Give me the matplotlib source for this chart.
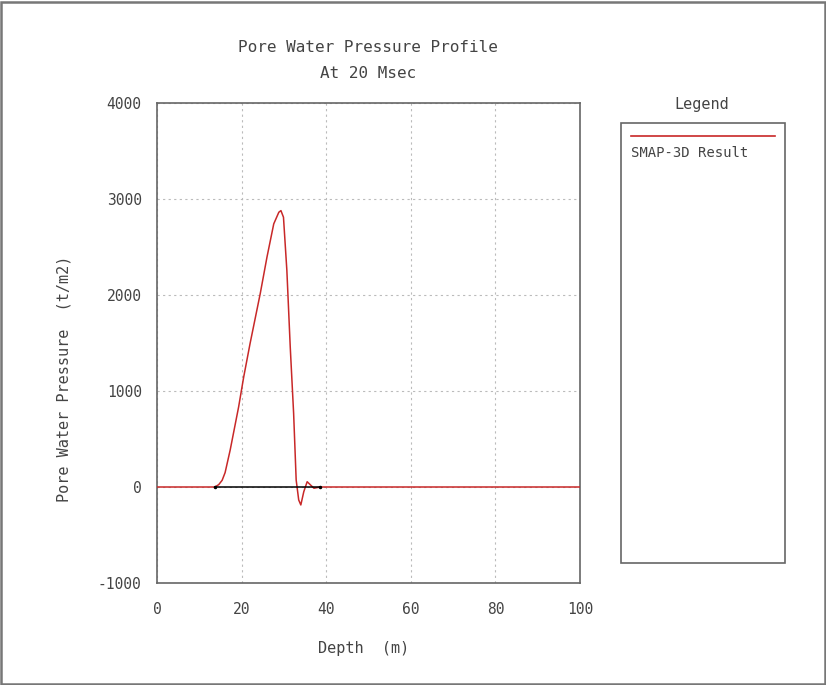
import matplotlib
matplotlib.use('Agg')
import matplotlib.pyplot as plt
from matplotlib.patches import Rectangle
from matplotlib.lines import Line2D

plt.rcParams['axes.unicode_minus'] = False

# Pore water pressure profile at 20 msec
depth = [0, 13.7, 14.6, 15.4, 16.1, 17.3, 19.3, 20.5, 22.0, 24.4, 26.0, 27.6, 28.8, 29.3,
         29.9, 30.7, 31.5, 32.3, 32.9, 33.5, 34.0, 34.7, 35.5, 36.3, 37.1, 38.6, 100]
pressure = [0, 0, 25, 70, 150, 385, 835, 1147, 1494, 2013, 2395, 2741, 2862, 2879,
            2810, 2256, 1458, 766, 73, -135, -187, -49, 55, 21, -13, 0, 0]
zero_depth = [13.7, 38.6]
zero_val = [0, 0]

xticks = [0, 20, 40, 60, 80, 100]
yticks = [-1000, 0, 1000, 2000, 3000, 4000]

font = 'DejaVu Sans Mono'
tc = '#444444'
red = '#c82828'

fig = plt.figure(figsize=(8.26, 6.85), dpi=100)
ax = fig.add_axes([157/826, 1 - 583/685, (580 - 157)/826, (583 - 103)/685])

ax.plot(depth, pressure, color=red, lw=1.1, zorder=3)
ax.plot(zero_depth, zero_val, color='black', lw=1.1, zorder=4,
        marker='.', markersize=3)

ax.set_xlim(0, 100)
ax.set_ylim(-1000, 4000)
ax.set_xticks(xticks)
ax.set_yticks(yticks)
ax.tick_params(axis='y', length=0, pad=11, labelsize=10.5, colors=tc)
ax.tick_params(axis='x', length=0, pad=14, labelsize=10.5, colors=tc)
for lbl in ax.get_xticklabels() + ax.get_yticklabels():
    lbl.set_family(font)
for s in ax.spines.values():
    s.set_color('#666666')
    s.set_linewidth(1.2)
ax.grid(True, color='#bbbbbb', ls=(0, (2, 3)), lw=0.8)

fig.text(368/826, 1 - 48/685, 'Pore Water Pressure Profile', ha='center', va='center',
         family=font, fontsize=11.5, color=tc)
fig.text(368/826, 1 - 73/685, 'At 20 Msec', ha='center', va='center',
         family=font, fontsize=11.5, color=tc)
fig.text(64/826, 1 - 379/685, 'Pore Water Pressure  (t/m2)', ha='center', va='center',
         rotation=90, family=font, fontsize=11, color=tc)
fig.text(364/826, 1 - 648/685, 'Depth  (m)', ha='center', va='center',
         family=font, fontsize=11, color=tc)

# legend panel
fig.patches.append(Rectangle((621/826, 1 - 563/685), (785 - 621)/826, (563 - 123)/685,
                             transform=fig.transFigure, fill=False, ec='#666666', lw=1.2))
fig.text(702/826, 1 - 105/685, 'Legend', ha='center', va='center',
         family=font, fontsize=11, color=tc)
fig.lines.append(Line2D([631/826, 775/826], [1 - 136/685, 1 - 136/685],
                        transform=fig.transFigure, color=red, lw=1.2))
fig.text(631/826, 1 - 153/685, 'SMAP-3D Result', ha='left', va='center',
         family=font, fontsize=10, color=tc)

# window frame
fig.patches.append(Rectangle((0.0015, 0.002), 0.997, 0.995, transform=fig.transFigure,
                             fill=False, ec='#777777', lw=1.8))

fig.savefig('out.png', dpi=100, facecolor='white')
